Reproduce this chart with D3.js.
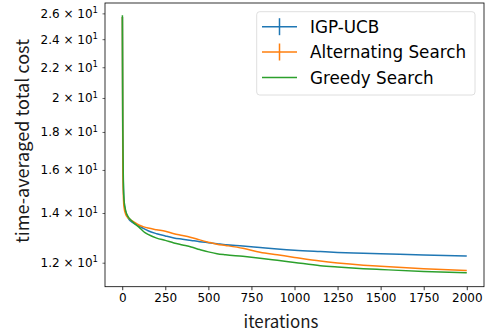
<!DOCTYPE html>
<html><head><meta charset="utf-8">
<script src="https://cdn.jsdelivr.net/npm/d3@7"></script>
<style>body{margin:0;background:#fff}svg{display:block}</style>
</head><body>
<script>
const iterations  = [1,3,5,10,20,30,40,50,67,100,125,150,200,250,300,350,400,450,500,550,600,700,800,900,1000,1150,1250,1400,1500,1750,2000];
const igpUcb      = [25.7,18.0,16.0,14.6,14.05,13.85,13.72,13.65,13.56,13.43,13.34,13.25,13.13,13.04,12.96,12.91,12.86,12.81,12.77,12.73,12.69,12.64,12.58,12.52,12.47,12.42,12.39,12.36,12.34,12.29,12.25];
const alternating = [25.7,17.0,15.3,14.28,13.95,13.82,13.76,13.70,13.62,13.48,13.41,13.36,13.29,13.23,13.13,13.06,12.98,12.88,12.79,12.71,12.66,12.55,12.40,12.30,12.20,12.06,11.99,11.91,11.87,11.78,11.71];
const greedy      = [25.85,18.5,16.5,14.6,14.1,13.9,13.78,13.70,13.58,13.38,13.21,13.10,12.95,12.86,12.76,12.68,12.60,12.50,12.41,12.34,12.30,12.24,12.17,12.09,12.01,11.89,11.84,11.78,11.75,11.68,11.63];
const seriesNames = ["IGP-UCB","Alternating Search","Greedy Search"];
const seriesColors = ["#1f77b4","#ff7f0e","#2ca02c"];
const xTicks = [0,250,500,750,1000,1250,1500,1750,2000];
const yTicks = [12,14,16,18,20,22,24,26];
const yTickLabels = ["1.2","1.4","1.6","1.8","2","2.2","2.4","2.6"];

const W=489,H=333;
const m={l:105,r:5,t:3,b:46.3};
const svg=d3.select("body").append("svg").attr("width",W).attr("height",H);
const x=d3.scaleLinear().domain([-100,2100]).range([m.l,W-m.r]);
const y=d3.scaleLog().domain([11.14,26.85]).range([H-m.b,m.t]);
const font="DejaVu Sans";
const labelFont="'Noto Sans CJK SC', 'Noto Sans', sans-serif";

const series=[igpUcb,alternating,greedy];
const line=d3.line().x((d,i)=>x(iterations[i])).y(d=>y(d)).curve(d3.curveMonotoneX);
series.forEach((s,k)=>{
  svg.append("path").datum(s).attr("d",line).attr("fill","none")
    .attr("stroke",seriesColors[k]).attr("stroke-width",1.5).attr("stroke-linejoin","round");
});

// axes
const xa=svg.append("g").attr("transform",`translate(0,${H-m.b})`)
  .call(d3.axisBottom(x).tickValues(xTicks).tickSize(3.5).tickPadding(3.5).tickFormat(d3.format("d")));
xa.select(".domain").remove();
xa.selectAll("text").attr("font-family",font).attr("font-size",12).attr("fill","#000");
xa.selectAll("line").attr("stroke","#000").attr("stroke-width",0.8);

const ya=svg.append("g").attr("transform",`translate(${m.l},0)`)
  .call(d3.axisLeft(y).tickValues(yTicks).tickSize(2.5).tickPadding(3.5).tickFormat(""));
ya.select(".domain").remove();
ya.selectAll("line").attr("stroke","#000").attr("stroke-width",0.6);
ya.selectAll(".tick").each(function(d,i){
  const t=d3.select(this).select("text").attr("font-family",font).attr("font-size",12).attr("fill","#000").attr("x",-7).attr("dy","0.32em");
  t.append("tspan").text(yTickLabels[i]+" \u00d7 10");
  t.append("tspan").text("1").attr("font-size",8.5).attr("dy","-0.55em");
});

// frame
svg.append("rect").attr("x",m.l).attr("y",m.t).attr("width",W-m.r-m.l).attr("height",H-m.b-m.t)
  .attr("fill","none").attr("stroke","#000").attr("stroke-width",0.8);

// labels (size fitted to the reference's text extents)
function fit(sel,target){
  const len=sel.node().getComputedTextLength();
  if(len>0) sel.attr("font-size",18*target/len);
}
const xl=svg.append("text").attr("x",281).attr("y",320).attr("text-anchor","middle")
  .attr("dominant-baseline","central").attr("font-family",labelFont).attr("font-size",18).attr("fill","#1a1a1a").text("iterations");
fit(xl,75);
const yl=svg.append("text").attr("transform",`translate(21,141) rotate(-90)`).attr("text-anchor","middle")
  .attr("dominant-baseline","central").attr("font-family",labelFont).attr("font-size",18).attr("fill","#1a1a1a").text("time-averaged total cost");
fit(yl,204);

// legend
const lg=svg.append("g");
lg.append("rect").attr("x",256.7).attr("y",11.7).attr("width",218.3).attr("height",83.3).attr("rx",3)
  .attr("fill","#fff").attr("fill-opacity",0.8).attr("stroke","#d5d5d5").attr("stroke-width",0.8);
const ly=[26.7,52,77.5];
seriesNames.forEach((n,k)=>{
  lg.append("line").attr("x1",262).attr("x2",297).attr("y1",ly[k]).attr("y2",ly[k])
    .attr("stroke",seriesColors[k]).attr("stroke-width",1.5);
  if(k<2) lg.append("line").attr("x1",279.5).attr("x2",279.5).attr("y1",ly[k]-8.5).attr("y2",ly[k]+8.5)
    .attr("stroke",seriesColors[k]).attr("stroke-width",1.5);
  lg.append("text").attr("x",310).attr("y",ly[k]).attr("dominant-baseline","central")
    .attr("font-family",font).attr("font-size",16.8).text(n);
});
</script>
</body></html>
